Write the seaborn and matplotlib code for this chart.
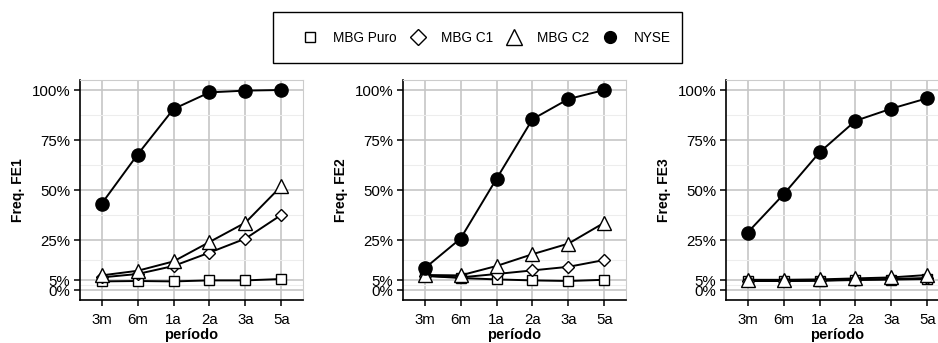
import matplotlib
matplotlib.use("Agg")
import matplotlib.pyplot as plt
from matplotlib.lines import Line2D
from matplotlib.patches import Rectangle
from matplotlib.ticker import FixedLocator
import seaborn as sns
import pandas as pd

sns.set_theme(style="white")
plt.rcParams["font.family"] = ["Liberation Sans", "DejaVu Sans"]
plt.rcParams["text.color"] = "black"
plt.rcParams["axes.labelcolor"] = "black"

periods = ["3m", "6m", "1a", "2a", "3a", "5a"]
series = ["MBG Puro", "MBG C1", "MBG C2", "NYSE"]
y_labels = ["Freq. FE1", "Freq. FE2", "Freq. FE3"]

fe1_puro = [4.3, 4.5, 4.3, 4.8, 4.8, 5.5]
fe1_c1 = [6.3, 8.0, 12.0, 18.7, 25.7, 37.6]
fe1_c2 = [7.3, 9.6, 14.3, 24.0, 33.7, 52.0]
fe1_nyse = [43.1, 67.7, 90.5, 98.8, 99.7, 100.0]

fe2_puro = [7.1, 6.0, 5.3, 4.8, 4.5, 5.1]
fe2_c1 = [7.1, 6.3, 8.0, 9.8, 11.6, 15.0]
fe2_c2 = [7.5, 7.3, 12.0, 17.9, 23.2, 33.7]
fe2_nyse = [10.8, 25.7, 55.6, 85.4, 95.5, 100.0]

fe3_puro = [4.5, 4.5, 4.6, 5.0, 5.2, 5.5]
fe3_c1 = [4.5, 4.5, 4.8, 5.2, 5.5, 6.0]
fe3_c2 = [5.1, 5.1, 5.3, 5.8, 6.3, 7.5]
fe3_nyse = [28.7, 47.8, 68.8, 84.6, 90.7, 95.9]

panels = [
    [fe1_puro, fe1_c1, fe1_c2, fe1_nyse],
    [fe2_puro, fe2_c1, fe2_c2, fe2_nyse],
    [fe3_puro, fe3_c1, fe3_c2, fe3_nyse],
]

styles = {
    "MBG Puro": dict(marker="s", markersize=6.5, markerfacecolor="white"),
    "MBG C1": dict(marker="D", markersize=6.5, markerfacecolor="white"),
    "MBG C2": dict(marker="^", markersize=10, markerfacecolor="white"),
    "NYSE": dict(marker="o", markersize=9.5, markerfacecolor="black"),
}
legend_sizes = {"MBG Puro": 7.5, "MBG C1": 8, "MBG C2": 11.5, "NYSE": 8.5}

W, H = 938, 343
fig = plt.figure(figsize=(W / 100, H / 100), dpi=100)

lefts = [80, 403, 726]
ax_w = 223
top_px, bottom_px = 80, 300

for left, vals, ylab in zip(lefts, panels, y_labels):
    ax = fig.add_axes([left / W, 1 - bottom_px / H, ax_w / W, (bottom_px - top_px) / H])
    for name, v in zip(series, vals):
        df = pd.DataFrame({"periodo": periods, "freq": v})
        sns.lineplot(data=df, x="periodo", y="freq", ax=ax, color="black",
                     linewidth=1.4, markeredgecolor="black", markeredgewidth=1.0,
                     sort=False, zorder=3, **styles[name])
    ax.set_xlim(-0.6, 5.6)
    ax.set_ylim(-5, 105)
    ax.set_yticks([0, 5, 25, 50, 75, 100])
    ax.set_yticklabels(["0%", "5%", "25%", "50%", "75%", "100%"])
    ax.yaxis.set_minor_locator(FixedLocator([2.5, 15, 37.5, 62.5, 87.5]))
    ax.grid(True, which="major", color="#c6c6c6", linewidth=1.2)
    ax.grid(True, which="minor", axis="y", color="#ededed", linewidth=0.8)
    ax.set_axisbelow(True)
    for s in ["left", "bottom"]:
        ax.spines[s].set_color("black")
        ax.spines[s].set_linewidth(1.2)
    for s in ["top", "right"]:
        ax.spines[s].set_color("#cccccc")
        ax.spines[s].set_linewidth(0.8)
    ax.tick_params(axis="both", which="major", direction="out", length=4, width=1.1,
                   color="black", labelsize=10.8, labelcolor="black", pad=3,
                   left=True, bottom=True)
    ax.tick_params(axis="x", which="major", pad=5)
    ax.tick_params(axis="y", which="minor", left=False)
    ax.set_xlabel("período", fontsize=10.5, fontweight="bold", labelpad=1, color="black")
    ax.set_ylabel(ylab, fontsize=10, fontweight="bold", labelpad=5, color="black")

handles = [
    Line2D([], [], linestyle="none", markeredgecolor="black", markeredgewidth=1.0,
           **{**styles[n], "markersize": legend_sizes[n]})
    for n in series
]
leg = fig.legend(handles, series, loc="center left",
                 bbox_to_anchor=(303 / W, 1 - 38 / H),
                 ncol=4, frameon=False, fontsize=9.8,
                 handlelength=1.0, handletextpad=1.22, columnspacing=1.02,
                 borderpad=0, borderaxespad=0, labelcolor="black")

fig.add_artist(Rectangle((273 / W, 1 - 63 / H), (682 - 273) / W, (63 - 12) / H,
                         transform=fig.transFigure, fill=False,
                         edgecolor="black", linewidth=1.0))

fig.savefig("out.png", dpi=100)
